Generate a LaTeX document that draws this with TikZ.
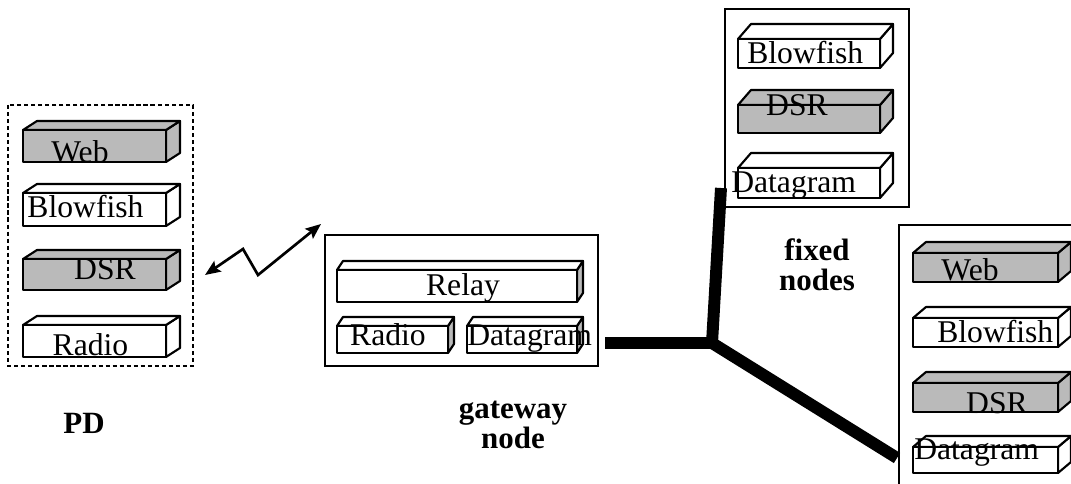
\documentclass[tikz,border=0pt]{standalone}
\usepackage{fontspec}
\setmainfont{Liberation Serif}
\usetikzlibrary{arrows.meta,positioning}
\colorlet{stipple}{black!27}
\tikzset
{
    hostbox/.style   = {draw=black, line width=1.1pt},
    pdbox/.style     = {draw=black, line width=1.1pt, dash pattern=on 3pt off 2pt},
    slabedge/.style  = {draw=black, line width=1.5pt, line join=round},
    slabtext/.style  = {font=\fontsize{22.5}{22.5}\selectfont, inner sep=0pt, anchor=base},
    hostname/.style  = {font=\fontsize{22}{21}\selectfont\bfseries, inner sep=0pt, align=center},
    trunk/.style     = {line width=8.5pt, draw=black},
    radiolink/.style = {line width=1.9pt, {Stealth[length=11pt,width=9pt,inset=2pt]}-{Stealth[length=11pt,width=9pt,inset=2pt]}}
}
% one protocol slab: x1, y1, x2, y2, face colour, side colour
\newcommand{\slab}[6]{%
  \filldraw[slabedge, fill=#6] (#3,#2) -- ++(\sdx,-\sdy) -- ++(0,#4-#2) -- (#3,#4) -- cycle;
  \filldraw[slabedge, fill=#5] (#1,#2) -- ++(\sdx,-\sdy) -- ++(#3-#1,0) -- (#3,#2) -- cycle;
  \filldraw[slabedge, fill=#5] (#1,#2) rectangle (#3,#4);
}

\begin{document}
\begin{tikzpicture}[x=0.025cm, y=-0.025cm]
\useasboundingbox (0,0) rectangle (1071,484);
\clip (0,0) rectangle (1071,484);

% PD
\draw[pdbox] (8,105) rectangle (193,366);
\def\sdx{14}\def\sdy{9}
\slab{23}{130}{166}{162}{stipple}{stipple}
\slab{23}{193}{166}{226}{white}{white}
\slab{23}{259}{166}{290}{stipple}{stipple}
\slab{23}{325}{166}{357}{white}{white}
\node [slabtext] (pdweb)   at (80,163)   {Web};
\node [slabtext] (pdfish)  at (85.5,218) {Blowfish};
\node [slabtext] (pddsr)   at (105,280)  {DSR};
\node [slabtext] (pdradio) at (90.5,356) {Radio};
\node [hostname, anchor=base] (pdname) at (84,433) {PD};

% gateway node
\draw[hostbox] (325,235) rectangle (598,366);
\def\sdx{6}\def\sdy{9}
\slab{337}{270}{577}{302}{white}{stipple}
\slab{337}{326}{448}{353}{white}{stipple}
\slab{467}{326}{577}{353}{white}{stipple}
\node [slabtext] (relay)   at (463,296) {Relay};
\node [slabtext] (gwradio) at (388,346) {Radio};
\node [slabtext, anchor=base west] (gwdgram) at (467,346) {Datagram};
\node [hostname] (gwname) at (513,425) {gateway\\node};

% fixed node, upper
\draw[hostbox] (725,9) rectangle (909,207);
\def\sdx{13}\def\sdy{15}
\slab{738}{39}{880}{68}{white}{white}
\slab{738}{105}{880}{133}{stipple}{stipple}
\slab{738}{168}{880}{198}{white}{white}

% fixed node, lower
\draw[hostbox] (899,225) rectangle (1095,510);
\def\sdx{13}\def\sdy{11}
\slab{913}{253}{1058}{282}{stipple}{stipple}
\slab{913}{318}{1058}{347}{white}{white}
\slab{913}{383}{1058}{412}{stipple}{stipple}
\slab{913}{447}{1058}{473}{white}{white}

% links
\coordinate (pdport) at (205,275);
\coordinate (zz1)    at (243,249);
\coordinate (zz2)    at (258,275);
\coordinate (gwair)  at (321,224);
\draw[radiolink] (pdport) -- (zz1) -- (zz2) -- (gwair);

\coordinate (gwport) at (605,343);
\coordinate (hub)    at (712,343);
\coordinate (fixtop) at (721,188);
\coordinate (fixbot) at (897,458);
\draw[trunk] (gwport) -- (hub) -- (fixtop);
\draw[trunk] (hub) -- (fixbot);

\node [slabtext, anchor=base west] (fxfish)  at (747,64)  {Blowfish};
\node [slabtext] (fxdsr) at (797,116) {DSR};
\node [slabtext, anchor=base west] (fxdgram) at (731,193) {Datagram};
\node [slabtext] (fyweb) at (970,281) {Web};
\node [slabtext, anchor=base west] (fyfish)  at (937,343) {Blowfish};
\node [slabtext] (fydsr) at (997,413) {DSR};
\node [slabtext, anchor=base west] (fydgram) at (914,459) {Datagram};
\node [hostname] (fixname) at (817,265) {fixed\\nodes};
\end{tikzpicture}
\end{document}
